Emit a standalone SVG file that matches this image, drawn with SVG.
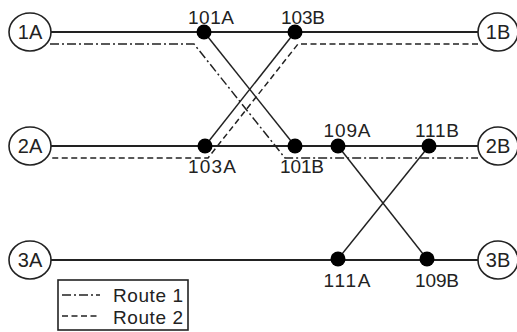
<svg xmlns="http://www.w3.org/2000/svg" width="517" height="332" viewBox="0 0 517 332">
<style>
.ln{stroke:#222;stroke-width:1.8;fill:none}
.dg{stroke:#222;stroke-width:1.5;fill:none}
.r1{stroke:#222;stroke-width:1.5;fill:none;stroke-dasharray:9 3 2 3}
.r2{stroke:#222;stroke-width:1.5;fill:none;stroke-dasharray:6 3.5}
.term{fill:#fff;stroke:#222;stroke-width:1.6}
.dot{fill:#000}
text{font-family:"Liberation Sans",Arial,sans-serif;font-size:19px;fill:#222}
.c{text-anchor:middle}
.t{font-size:20px}
</style>
<rect width="517" height="332" fill="#fff"/>
<g id="connectors">
<line class="ln" x1="51" y1="32" x2="478" y2="32"/>
<line class="ln" x1="51" y1="146" x2="478" y2="146"/>
<line class="ln" x1="51" y1="260" x2="478" y2="260"/>
<line class="dg" x1="204" y1="32" x2="295" y2="146"/>
<line class="dg" x1="205" y1="146" x2="295" y2="32"/>
<line class="dg" x1="338" y1="146" x2="427" y2="259"/>
<line class="dg" x1="338" y1="259" x2="429" y2="146"/>
<path class="r1" d="M50,44 H194 L285,158 H478"/>
<path class="r2" d="M478,44 H298 L208,158 H50"/>
</g>
<g id="n1A"><ellipse class="term" cx="30" cy="32" rx="21" ry="19"/><text class="c t" x="30" y="39">1A</text></g>
<g id="n2A"><ellipse class="term" cx="30" cy="146" rx="21" ry="19"/><text class="c t" x="30" y="153">2A</text></g>
<g id="n3A"><ellipse class="term" cx="30" cy="260" rx="21" ry="19"/><text class="c t" x="30" y="267">3A</text></g>
<g id="n1B"><ellipse class="term" cx="498" cy="32" rx="20" ry="19"/><text class="c t" x="498" y="39">1B</text></g>
<g id="n2B"><ellipse class="term" cx="498" cy="146" rx="20" ry="19"/><text class="c t" x="498" y="153">2B</text></g>
<g id="n3B"><ellipse class="term" cx="498" cy="260" rx="20" ry="19"/><text class="c t" x="498" y="267">3B</text></g>
<g id="n101A"><circle class="dot" cx="204" cy="32" r="7.5"/><text class="c" x="211" y="24" textLength="46">101A</text></g>
<g id="n103B"><circle class="dot" cx="295" cy="32" r="7.5"/><text class="c" x="303" y="24" textLength="44">103B</text></g>
<g id="n103A"><circle class="dot" cx="205" cy="146" r="7.5"/><text class="c" x="212" y="173" textLength="48">103A</text></g>
<g id="n101B"><circle class="dot" cx="295" cy="146" r="7.5"/><text class="c" x="302" y="173" textLength="44">101B</text></g>
<g id="n109A"><circle class="dot" cx="338" cy="146" r="7.5"/><text class="c" x="347" y="137" textLength="47">109A</text></g>
<g id="n111B"><circle class="dot" cx="429" cy="146" r="7.5"/><text class="c" x="437" y="137" textLength="44">111B</text></g>
<g id="n111A"><circle class="dot" cx="338" cy="259" r="7.5"/><text class="c" x="347" y="287" textLength="47">111A</text></g>
<g id="n109B"><circle class="dot" cx="427" cy="259" r="7.5"/><text class="c" x="437" y="287" textLength="44">109B</text></g>
<g id="legend">
<rect x="58" y="280" width="130" height="50" fill="#fff" stroke="#222" stroke-width="1.6"/>
<line class="r1" x1="62" y1="295" x2="100" y2="295"/>
<line class="r2" x1="62" y1="316" x2="100" y2="316"/>
<text x="113" y="302" textLength="70">Route 1</text>
<text x="113" y="324" textLength="70">Route 2</text>
</g>
</svg>
